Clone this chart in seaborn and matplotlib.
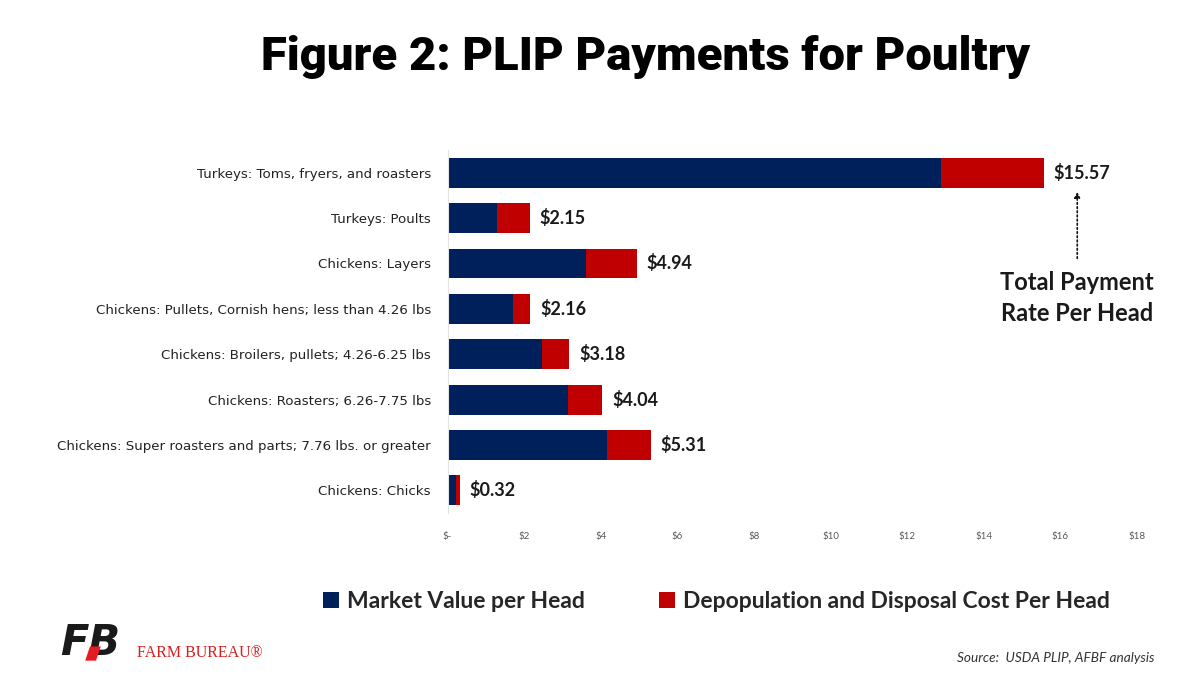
import matplotlib
matplotlib.use("Agg")
import matplotlib.pyplot as plt
import seaborn as sns
import pandas as pd
from matplotlib.patches import Patch, Polygon

categories = [
    "Turkeys: Toms, fryers, and roasters",
    "Turkeys: Poults",
    "Chickens: Layers",
    "Chickens: Pullets, Cornish hens; less than 4.26 lbs",
    "Chickens: Broilers, pullets; 4.26-6.25 lbs",
    "Chickens: Roasters; 6.26-7.75 lbs",
    "Chickens: Super roasters and parts; 7.76 lbs. or greater",
    "Chickens: Chicks",
]
market_value = [12.87, 1.30, 3.62, 1.70, 2.47, 3.14, 4.15, 0.22]
depop_cost = [2.70, 0.85, 1.32, 0.46, 0.71, 0.90, 1.16, 0.10]
total_payment = [15.57, 2.15, 4.94, 2.16, 3.18, 4.04, 5.31, 0.32]
tick_values = [0, 2, 4, 6, 8, 10, 12, 14, 16, 18]
tick_labels = ["$-", "$2", "$4", "$6", "$8", "$10", "$12", "$14", "$16", "$18"]
series_names = ["Market Value per Head", "Depopulation and Disposal Cost Per Head"]

BLUE = "#00205B"
RED = "#C00000"

sns.set_theme(style="white")
plt.rcParams["font.family"] = ["Lato", "DejaVu Sans"]

df = pd.DataFrame({"category": categories, "market": market_value,
                   "depop": depop_cost, "total": total_payment})

fig = plt.figure(figsize=(12, 6.79), dpi=100)
ax = fig.add_axes([0.373, 0.2445, 0.5745, 0.5345])

sns.barplot(data=df, x="total", y="category", color=RED, ax=ax,
            width=0.66, saturation=1, edgecolor="none", order=categories)
sns.barplot(data=df, x="market", y="category", color=BLUE, ax=ax,
            width=0.66, saturation=1, edgecolor="none", order=categories)

ax.set_xlim(0, 18)
ax.set_ylim(len(categories) - 0.5, -0.5)
ax.set_xticks(tick_values)
ax.set_xticklabels(tick_labels, fontsize=7, color="#595959")
ax.tick_params(axis="x", length=0, pad=14)
ax.tick_params(axis="y", length=0, pad=12)
ax.set_yticklabels(categories, fontsize=9.6, color="#222222",
                   family=["DejaVu Sans"])
ax.set_xlabel("")
ax.set_ylabel("")
for s in ["top", "right", "bottom"]:
    ax.spines[s].set_visible(False)
ax.spines["left"].set_color("#E3E3E3")
ax.spines["left"].set_linewidth(0.8)

for i, t in enumerate(total_payment):
    ax.annotate(f"${t:.2f}", xy=(t, i), xytext=(7, 0), textcoords="offset points",
                va="center", ha="left", fontsize=13, fontweight="bold", color="#1a1a1a")

# annotation arrow and text
ax.annotate("", xy=(16.44, 0.36), xytext=(16.44, 1.95),
            arrowprops=dict(arrowstyle="-|>", linestyle=(0, (1, 1.5)), color="#111111",
                            lw=1.2, mutation_scale=8))
ax.text(16.44, 2.76, "Total Payment\nRate Per Head", ha="center", va="center",
        fontsize=17, fontweight="bold", color="#1a1a1a", linespacing=1.4)

fig.text(0.538, 0.916, "Figure 2: PLIP Payments for Poultry", ha="center", va="center",
         fontsize=34, fontweight="heavy", family=["Roboto", "DejaVu Sans"], color="#000000")

# legend
handles = [Patch(facecolor=BLUE, edgecolor="none"), Patch(facecolor=RED, edgecolor="none")]
leg = fig.legend(handles, series_names, loc="center", bbox_to_anchor=(0.597, 0.114),
                 ncol=2, frameon=False, handlelength=0.7, handleheight=0.7,
                 handletextpad=0.35, columnspacing=3.2,
                 prop={"size": 16.5, "weight": "bold"})

# logo and source
fig.text(0.050, 0.022, "FB", fontsize=30, fontweight="heavy", fontstyle="italic",
         color="#1a1a1a", ha="left", va="bottom", family=["DejaVu Sans"])
fig.patches.append(Polygon([[0.071, 0.027], [0.080, 0.027], [0.084, 0.048], [0.075, 0.048]],
                           closed=True, transform=fig.transFigure, facecolor="#E31B23",
                           edgecolor="none", zorder=5))
fig.text(0.114, 0.026, "FARM BUREAU\u00ae", fontsize=11.5, color="#D42020",
         ha="left", va="bottom", family=["Liberation Serif", "DejaVu Serif"])
fig.text(0.962, 0.022, "Source:  USDA PLIP, AFBF analysis", fontsize=9.8,
         fontstyle="italic", color="#333333", ha="right", va="bottom")

fig.savefig("out.png", dpi=100, facecolor="white")
